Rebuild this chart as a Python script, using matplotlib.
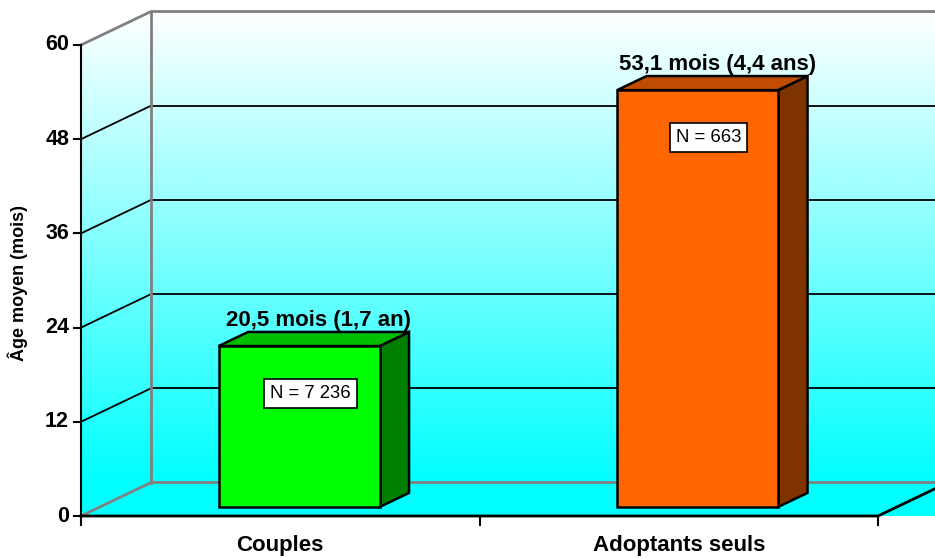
import numpy as np
import matplotlib.pyplot as plt
from matplotlib.patches import Polygon
from matplotlib.colors import LinearSegmentedColormap

# données
categories = ['Couples', 'Adoptants seuls']
valeurs = [20.5, 53.1]
etiquettes = ['20,5 mois (1,7 an)', '53,1 mois (4,4 ans)']
effectifs = ['N = 7 236', 'N = 663']
graduations = [0, 12, 24, 36, 48, 60]

# couleurs (face, côté, dessus)
couleurs_face = ['#00FF00', '#FF6600']
couleurs_cote = ['#007F00', '#7F3300']
couleurs_dessus = ['#00BF00', '#BF4C00']

plt.rcParams['font.family'] = ['Liberation Sans', 'DejaVu Sans']

W, H = 935, 558
fig = plt.figure(figsize=(W / 100, H / 100), dpi=100)
ax = fig.add_axes([0, 0, 1, 1])
ax.set_axis_off()

# échelle : pixels par unité
PX_CAT = 398.5
PX_VAL = 7.85
X0_PX, Y0_PX = 81, 516
xmin = -0.5 - X0_PX / PX_CAT
xmax = -0.5 + (W - X0_PX) / PX_CAT
ymin = -(H - Y0_PX) / PX_VAL
ymax = Y0_PX / PX_VAL
ax.set_xlim(xmin, xmax)
ax.set_ylim(ymin, ymax)

# profondeur 3D
DX = 70 / PX_CAT
DY = 33.5 / PX_VAL
VMAX = graduations[-1]


def P(x, v, d=0.0):
    return (x + d * DX, v + d * DY)


def dpx(x):
    return x / PX_CAT


def vpx(y):
    return y / PX_VAL


# dégradé blanc -> cyan
cmap = LinearSegmentedColormap.from_list('fond', ['#00FFFF', '#FFFFFF'])
vals = np.linspace(0, VMAX + DY, 400)
grad = np.clip((vals - DY) / VMAX, 0, 1)[::-1].reshape(-1, 1)

gauche = -0.5
droite = len(categories) - 0.5

# mur du fond
ax.imshow(grad, extent=[gauche + DX, xmax, 0, VMAX + DY], cmap=cmap,
          vmin=0, vmax=1, aspect='auto', zorder=0, interpolation='bilinear')
# mur latéral
mur = Polygon([P(gauche, 0), P(gauche, VMAX), P(gauche, VMAX, 1), P(gauche, 0, 1)],
              closed=True, facecolor='none', edgecolor='none')
ax.add_patch(mur)
im = ax.imshow(grad, extent=[gauche, gauche + DX, 0, VMAX + DY], cmap=cmap,
               vmin=0, vmax=1, aspect='auto', zorder=0, interpolation='bilinear')
im.set_clip_path(mur)

# sol
sol = Polygon([P(gauche, 0), P(droite, 0), P(droite, 0, 1), P(gauche, 0, 1)],
              closed=True, facecolor='#00FFFF', edgecolor='none', zorder=1)
ax.add_patch(sol)

# quadrillage
for g in graduations[1:-1]:
    ax.plot([P(gauche, g)[0], P(gauche, g, 1)[0]], [P(gauche, g)[1], P(gauche, g, 1)[1]],
            color='black', lw=1.3, zorder=2)
    ax.plot([P(gauche, g, 1)[0], xmax], [P(gauche, g, 1)[1]] * 2,
            color='black', lw=1.3, zorder=2)

gris = '#808080'
# arêtes grises
ax.plot([P(gauche, VMAX)[0], P(gauche, VMAX, 1)[0], xmax],
        [P(gauche, VMAX)[1], P(gauche, VMAX, 1)[1], P(gauche, VMAX, 1)[1]],
        color=gris, lw=2, zorder=2)
ax.plot([P(gauche, 0, 1)[0]] * 2, [P(gauche, 0, 1)[1], P(gauche, VMAX, 1)[1]],
        color=gris, lw=2, zorder=2)
ax.plot([P(gauche, 0)[0], P(gauche, 0, 1)[0], xmax],
        [P(gauche, 0)[1], P(gauche, 0, 1)[1], P(gauche, 0, 1)[1]],
        color=gris, lw=2, zorder=2)

# axes noirs
ax.plot([gauche, gauche], [0, VMAX], color='black', lw=1.5, zorder=3)
ax.plot([gauche, droite, P(droite, 0, 1)[0]], [0, 0, P(droite, 0, 1)[1]],
        color='black', lw=2, zorder=3)

# graduations y
for g in graduations:
    ax.plot([gauche - dpx(7), gauche], [g, g], color='black', lw=1.5, zorder=3)
    ax.text(gauche - dpx(12), g, str(g), ha='right', va='center',
            fontsize=15.5, fontweight='bold', zorder=4)

# graduations x
for k in range(len(categories) + 1):
    ax.plot([gauche + k] * 2, [0, -vpx(9)], color='black', lw=1.5, zorder=3)

for i, c in enumerate(categories):
    ax.text(i, -vpx(29), c, ha='center', va='center', fontsize=16,
            fontweight='bold', zorder=4)

ax.text(dpx(18) + xmin, vpx(Y0_PX - 283), 'Âge moyen (mois)', rotation=90,
        ha='center', va='center', fontsize=13, fontweight='bold', zorder=4)

# barres 3D
largeur = 0.404
d0, d1 = 0.27, 0.69
for i, v in enumerate(valeurs):
    xl, xr = i - largeur / 2, i + largeur / 2
    face = Polygon([P(xl, 0, d0), P(xr, 0, d0), P(xr, v, d0), P(xl, v, d0)],
                   closed=True, facecolor=couleurs_face[i], edgecolor='black',
                   lw=1.8, zorder=5)
    cote = Polygon([P(xr, 0, d0), P(xr, 0, d1), P(xr, v, d1), P(xr, v, d0)],
                   closed=True, facecolor=couleurs_cote[i], edgecolor='black',
                   lw=1.8, zorder=5)
    dessus = Polygon([P(xl, v, d0), P(xr, v, d0), P(xr, v, d1), P(xl, v, d1)],
                     closed=True, facecolor=couleurs_dessus[i], edgecolor='black',
                     lw=1.8, zorder=5)
    for p in (cote, dessus, face):
        ax.add_patch(p)

    lx, ly = P(i, v, d1)
    ax.text(P(i, v, 0.55)[0], ly + vpx(1), etiquettes[i], ha='center', va='bottom',
            fontsize=16, fontweight='bold', zorder=6)

    bx, by = P(i, v - 6, d0)
    ax.text(bx + dpx(11), by, effectifs[i], ha='center', va='center', fontsize=13.3,
            zorder=6, bbox=dict(boxstyle='square,pad=0.33', facecolor='white',
                                edgecolor='black', lw=1.2))

fig.savefig('out.png', dpi=100)
